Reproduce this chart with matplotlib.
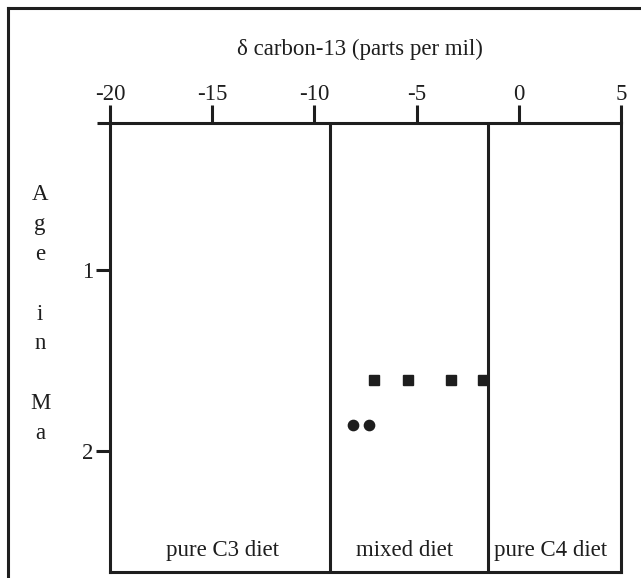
# plot.py
# Isotop karbon-13 vs umur (Ma), gaya gambar lama dengan font serif.

import matplotlib
matplotlib.use("Agg")
import matplotlib.pyplot as plt
from matplotlib.lines import Line2D

# --- data ---
x_ticks = [-20, -15, -10, -5, 0, 5]
y_ticks = [1, 2]

# batas zona diet (delta C13)
zone_bounds = [-9.25, -1.5]
zone_labels = ["pure C3 diet", "mixed diet", "pure C4 diet"]
zone_label_x = [-14.5, -5.6, 1.55]

# titik data
square_x = [-7.1, -5.4, -3.3, -1.75]
square_y = [1.61, 1.61, 1.61, 1.61]
circle_x = [-8.1, -7.35]
circle_y = [1.86, 1.86]

INK = "#1e1e1e"
FS = 16.5
plt.rcParams["font.family"] = ["Liberation Serif", "DejaVu Serif"]

W, H = 641, 578
fig = plt.figure(figsize=(W / 100, H / 100), dpi=100)

def px(x, y):
    return x / W, 1 - y / H

# kotak luar (hanya atas & kiri yang kelihatan)
fig.add_artist(Line2D([8 / W, 1], [1 - 8 / H, 1 - 8 / H], color=INK, lw=2.2, transform=fig.transFigure))
fig.add_artist(Line2D([8 / W, 8 / W], [0, 1 - 8 / H], color=INK, lw=2.2, transform=fig.transFigure))

left, top, right, bottom = 110, 123, 621, 572
ax = fig.add_axes([left / W, 1 - bottom / H, (right - left) / W, (bottom - top) / H])

ax.set_xlim(-20, 5)
ax.set_ylim(2.67, 0.19)

for s in ax.spines.values():
    s.set_linewidth(2.2)
    s.set_color(INK)

ax.xaxis.tick_top()
ax.set_xticks(x_ticks)
ax.set_xticklabels([str(v) for v in x_ticks])
ax.set_yticks(y_ticks)
ax.set_yticklabels([str(v) for v in y_ticks])
ax.tick_params(axis="x", direction="out", length=13, width=2.2, pad=0,
               labelsize=FS, colors=INK)
ax.tick_params(axis="y", direction="out", length=10, width=2.2, pad=2,
               labelsize=FS, colors=INK)

# garis atas sedikit lebih panjang ke kiri
ax.plot([-20.65, -20], [0.19, 0.19], color=INK, lw=2.2, clip_on=False,
        solid_capstyle="butt")

for b in zone_bounds:
    ax.axvline(b, color=INK, lw=2.2)

for lab, lx in zip(zone_labels, zone_label_x):
    ax.text(lx, 2.55, lab, ha="center", va="center", fontsize=FS, color=INK)

ax.plot(square_x, square_y, "s", color=INK, markersize=7.8, clip_on=False)
ax.plot(circle_x, circle_y, "o", color=INK, markersize=7.4)

fig.text(*px(360, 49), "\u03b4 carbon-13 (parts per mil)", ha="center",
         va="center", fontsize=FS, color=INK)

fig.text(*px(40, 314), "A\ng\ne\n\ni\nn\n\nM\na", ha="center", va="center",
         fontsize=FS, color=INK, linespacing=1.55)

fig.savefig("out.png", dpi=100)
